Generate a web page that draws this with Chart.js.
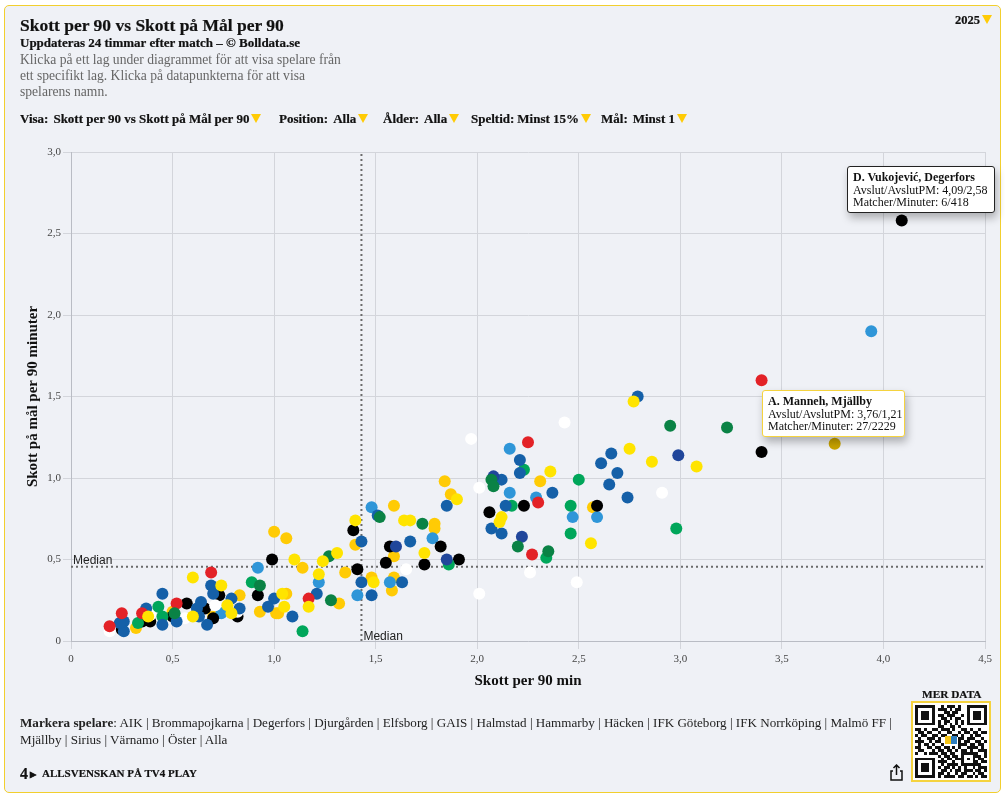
<!DOCTYPE html>
<html lang="sv">
<head>
<meta charset="utf-8">
<title>Skott per 90 vs Skott på Mål per 90</title>
<script src="https://cdn.jsdelivr.net/npm/chart.js@4"></script>
<style>
html, body { margin: 0; padding: 0; background: #fff; }
body { width: 1005px; height: 798px; position: relative; overflow: hidden; font-family: "Liberation Serif", serif; color: #111; }
#card { position: absolute; left: 4px; top: 5px; width: 995px; height: 786px; background: #eff1f6; border: 1.5px solid #f2cf2e; border-radius: 5px; }
#chart { position: absolute; left: 0; top: 0; }
.t { position: absolute; white-space: nowrap; }
.b { font-weight: bold; -webkit-text-stroke: 0.2px #111; }
.arrow { display: inline-block; width: 0; height: 0; border-left: 5px solid transparent; border-right: 5px solid transparent; border-top: 9px solid #ffcb05; margin-left: 2px; }
#desc { left: 20px; top: 52px; font-size: 13.6px; line-height: 15.8px; color: #666; }
#filters { left: 20px; top: 111px; font-size: 13px; font-weight: bold; -webkit-text-stroke: 0.2px #111; }
#filters span.f { position: absolute; top: 0; white-space: nowrap; }
#filters i { font-style: normal; margin-left: 5px; }
.tip { position: absolute; background: #fff; border-radius: 3px; padding: 4px 5px; font-size: 12px; line-height: 12.5px; white-space: nowrap; box-shadow: 2px 5px 9px rgba(0,0,0,0.28); box-sizing: border-box; }
#teams { left: 20px; top: 714px; font-size: 13.1px; line-height: 17px; color: #222; }
#qr { position: absolute; left: 911px; top: 701px; width: 80px; height: 81px; background: #fff; border: 2px solid #f5d33f; box-sizing: border-box; }
</style>
</head>
<body>
<div id="card"></div>
<canvas id="chart" width="1005" height="798"></canvas>

<div class="t b" style="left:20px;top:15px;font-size:17.5px">Skott per 90 vs Skott på Mål per 90</div>
<div class="t b" style="left:20px;top:35px;font-size:13px">Uppdateras 24 timmar efter match – © Bolldata.se</div>
<div class="t" id="desc">Klicka på ett lag under diagrammet för att visa spelare från<br>ett specifikt lag. Klicka på datapunkterna för att visa<br>spelarens namn.</div>
<div class="t b" style="left:955px;top:13px;font-size:12.5px">2025<span class="arrow"></span></div>
<div class="t" id="filters">
  <span class="f" style="left:0">Visa:<i>Skott per 90 vs Skott på Mål per 90</i><span class="arrow"></span></span>
  <span class="f" style="left:259px">Position:<i>Alla</i><span class="arrow"></span></span>
  <span class="f" style="left:363px">Ålder:<i>Alla</i><span class="arrow"></span></span>
  <span class="f" style="left:451px">Speltid:<i style="margin-left:3px">Minst 15%</i><span class="arrow"></span></span>
  <span class="f" style="left:581px">Mål:<i>Minst 1</i><span class="arrow"></span></span>
</div>

<div class="tip" style="left:847px;top:166px;width:148px;height:47px;border:1px solid #222"><b>D. Vukojević, Degerfors</b><br>Avslut/AvslutPM: 4,09/2,58<br>Matcher/Minuter: 6/418</div>
<div class="tip" style="left:762px;top:390px;width:143px;height:47px;border:1px solid #f5d33f"><b>A. Manneh, Mjällby</b><br>Avslut/AvslutPM: 3,76/1,21<br>Matcher/Minuter: 27/2229</div>

<div class="t" id="teams"><b>Markera spelare</b>: AIK | Brommapojkarna | Degerfors | Djurgården | Elfsborg | GAIS | Halmstad | Hammarby | Häcken | IFK Göteborg | IFK Norrköping | Malmö FF |<br>Mjällby | Sirius | Värnamo | Öster | Alla</div>
<div class="t b" style="left:20px;top:765px;font-size:16px">4<span style="font-size:8px;vertical-align:2px"> ▶</span></div>
<div class="t b" style="left:42px;top:767px;font-size:11px">ALLSVENSKAN PÅ TV4 PLAY</div>
<svg style="position:absolute;left:889px;top:764px" width="15" height="17" viewBox="0 0 15 17" fill="none" stroke="#111" stroke-width="1.5"><path d="M4 7H2v9h11V7h-2"/><path d="M7.5 11V1M4.5 4l3-3 3 3"/></svg>
<div class="t b" style="left:922px;top:688px;font-size:11.3px">MER DATA</div>
<div id="qr"><svg id="qrSvg" style="position:absolute;left:2px;top:2px" width="72" height="73" viewBox="0 0 25 25" preserveAspectRatio="none" shape-rendering="crispEdges"></svg></div>

<script>
// skott per 90 / skott på mål per 90, avlästa per färggrupp
const goldPlayers = [[0.83,0.28],[1.00,0.67],[0.93,0.18],[1.01,0.17],[0.32,0.08],[0.64,0.21],[0.70,0.15],[0.50,0.18],[1.06,0.63],[1.14,0.45],[1.40,0.59],[1.35,0.42],[1.59,0.83],[1.79,0.72],[1.79,0.69],[1.59,0.52],[1.48,0.39],[1.59,0.39],[1.58,0.31],[1.32,0.23],[1.06,0.29],[1.02,0.17],[1.84,0.98],[1.87,0.90],[2.31,0.98],[2.57,0.82]];
const mustardPlayers = [[3.76,1.21]];
const yellowPlayers = [[0.60,0.39],[0.74,0.34],[0.38,0.15],[0.77,0.22],[0.60,0.15],[0.79,0.17],[1.10,0.50],[1.22,0.41],[1.24,0.49],[1.31,0.54],[1.40,0.74],[1.64,0.74],[1.67,0.74],[1.74,0.54],[1.49,0.36],[1.17,0.21],[1.04,0.29],[1.05,0.21],[1.90,0.87],[2.77,1.47],[2.75,1.18],[2.86,1.10],[3.08,1.07],[2.36,1.04],[2.12,0.76],[2.11,0.73],[2.56,0.60]];
const blackPlayers = [[0.99,0.50],[0.92,0.28],[0.73,0.28],[0.57,0.23],[0.66,0.20],[0.70,0.14],[0.82,0.15],[0.35,0.12],[0.39,0.12],[0.25,0.07],[0.50,0.15],[1.39,0.68],[1.41,0.44],[1.55,0.48],[1.57,0.58],[1.74,0.47],[1.82,0.58],[1.91,0.50],[2.06,0.79],[2.23,0.83],[2.59,0.83],[3.40,1.16],[4.09,2.58]];
const whitePlayers = [[0.19,0.06],[0.56,0.14],[0.82,0.18],[0.71,0.22],[0.39,0.16],[1.65,0.44],[2.01,0.29],[1.97,1.24],[2.43,1.34],[2.01,0.94],[2.91,0.91],[2.26,0.42],[2.49,0.36]];
const bluePlayers = [[0.45,0.29],[0.69,0.34],[0.70,0.29],[0.79,0.26],[1.00,0.26],[0.97,0.21],[0.64,0.24],[0.62,0.20],[0.67,0.10],[0.45,0.10],[0.52,0.12],[0.37,0.20],[0.26,0.12],[0.26,0.06],[0.24,0.11],[0.83,0.20],[0.63,0.15],[1.09,0.15],[1.21,0.29],[1.43,0.36],[1.48,0.28],[1.63,0.36],[1.67,0.61],[1.85,0.83],[1.43,0.61],[1.51,0.77],[2.79,1.50],[2.66,1.15],[2.61,1.09],[2.69,1.03],[2.65,0.96],[2.74,0.88],[2.21,1.11],[2.21,1.03],[2.12,0.99],[2.14,0.83],[2.37,0.91],[2.07,0.69],[2.12,0.66]];
const navyPlayers = [[1.60,0.58],[1.85,0.50],[2.08,1.01],[2.22,0.64],[2.99,1.14]];
const skyPlayers = [[0.92,0.45],[0.74,0.17],[1.22,0.36],[1.41,0.28],[1.57,0.36],[1.78,0.63],[1.48,0.82],[2.16,1.18],[2.16,0.91],[2.29,0.88],[2.47,0.76],[2.59,0.76],[3.94,1.90]];
const greenPlayers = [[0.89,0.36],[0.43,0.21],[0.45,0.15],[0.33,0.11],[1.14,0.06],[1.86,0.47],[2.50,0.99],[2.46,0.83],[2.46,0.66],[2.98,0.69],[2.23,1.05],[2.17,0.83],[2.34,0.51]];
const darkGreenPlayers = [[0.93,0.34],[0.51,0.17],[1.52,0.76],[1.73,0.72],[1.27,0.52],[1.28,0.25],[2.07,0.99],[2.08,0.95],[2.20,0.58],[2.35,0.55],[2.95,1.32],[3.23,1.31]];
const redPlayers = [[0.19,0.09],[0.25,0.17],[0.52,0.23],[0.69,0.42],[0.35,0.17],[1.17,0.26],[2.25,1.22],[2.30,0.85],[2.27,0.53],[3.40,1.60]];

const medianX = 1.43;
const medianY = 0.455;
const xTicks = [0, 0.5, 1, 1.5, 2, 2.5, 3, 3.5, 4, 4.5];
const yTicks = [0, 0.5, 1, 1.5, 2, 2.5, 3];

const qrRows = [
  "1111111001011101001111111",
  "1000001011101011001000001",
  "1011101000110110001011101",
  "1011101011011100101011101",
  "1011101001101011001011101",
  "1000001010110010101000001",
  "1111111010101010101111111",
  "0000000011001101000000000",
  "1101001101110100110100100",
  "0110110010011001011011011",
  "1011001101100110100101100",
  "0100111010000001101110010",
  "1110010110000001011001101",
  "0101101001000001110110110",
  "1100110110110101001111010",
  "0110001011011010110100111",
  "1001011101101100111111001",
  "0000000010110110100011101",
  "1111111001011011101010110",
  "1000001011100100100011011",
  "1011101001011110111111100",
  "1011101010110101010010111",
  "1011101001101011011101101",
  "1000001011010010110010110",
  "1111111010111101101101011",
];

var qrHtml = "";
qrRows.forEach(function (row, y) {
  row.split("").forEach(function (c, x) {
    if (c === "1") qrHtml += '<rect x="' + x + '" y="' + y + '" width="1" height="1" fill="#111"/>';
  });
});
qrHtml += '<rect x="10.5" y="10.5" width="2" height="3" fill="#f5c518"/><rect x="12.5" y="10.5" width="2" height="3" fill="#2f7fc0"/>';
document.getElementById("qrSvg").innerHTML = qrHtml;

function dots(points, color) {
  return {
    data: points.map(function (p) { return { x: p[0], y: p[1] }; }),
    backgroundColor: color,
    borderWidth: 0,
    pointRadius: 6,
    pointHoverRadius: 6,
  };
}

function medianLine(points) {
  return {
    data: points,
    showLine: true,
    pointRadius: 0,
    borderColor: "#6b6b6b",
    borderWidth: 2,
    borderDash: [2, 3],
  };
}

function tickText(value) {
  return value === 0 ? "0" : value.toFixed(1).replace(".", ",");
}

const medianLabels = {
  id: "medianLabels",
  beforeDatasetsDraw: function (chart) {
    var ctx = chart.ctx;
    var x = chart.scales.x;
    var y = chart.scales.y;
    ctx.save();
    ctx.font = "12px 'Liberation Sans', Arial, sans-serif";
    ctx.fillStyle = "#222";
    ctx.textBaseline = "alphabetic";
    ctx.fillText("Median", x.getPixelForValue(0) + 2, y.getPixelForValue(medianY) - 3);
    ctx.fillText("Median", x.getPixelForValue(medianX) + 2, y.getPixelForValue(0) - 1);
    ctx.restore();
  },
};

// forsta datasetet ritas overst i Chart.js
new Chart(document.getElementById("chart"), {
  type: "scatter",
  plugins: [medianLabels],
  data: {
    datasets: [
      dots(yellowPlayers, "#ffe400"),
      dots(darkGreenPlayers, "#0a8245"),
      dots(redPlayers, "#e32227"),
      dots(navyPlayers, "#20469b"),
      dots(bluePlayers, "#1560a8"),
      dots(greenPlayers, "#00a65a"),
      dots(whitePlayers, "#ffffff"),
      dots(blackPlayers, "#000000"),
      dots(skyPlayers, "#2f96d8"),
      dots(mustardPlayers, "#c9a400"),
      dots(goldPlayers, "#ffcb05"),
      medianLine([{ x: medianX, y: 0 }, { x: medianX, y: 3 }]),
      medianLine([{ x: 0, y: medianY }, { x: 4.5, y: medianY }]),
    ],
  },
  options: {
    responsive: false,
    animation: false,
    events: [],
    layout: { padding: { left: 20, right: 20, top: 152, bottom: 100 } },
    plugins: { legend: { display: false }, tooltip: { enabled: false } },
    scales: {
      x: {
        type: "linear",
        min: 0,
        max: 4.5,
        afterBuildTicks: function (axis) {
          axis.ticks = xTicks.map(function (v) { return { value: v }; });
        },
        afterFit: function (axis) { axis.height = 57; },
        grid: { color: "#d3d5db", tickLength: 8, tickColor: "#d3d5db" },
        border: { color: "#b9bcc4" },
        ticks: { callback: tickText, maxRotation: 0, padding: 4, color: "#444", font: { family: "'Liberation Serif', serif", size: 11 } },
        title: { display: true, text: "Skott per 90 min", color: "#111", padding: { top: 6, bottom: 8 }, font: { family: "'Liberation Serif', serif", size: 15, weight: "bold" } },
      },
      y: {
        type: "linear",
        min: 0,
        max: 3,
        afterBuildTicks: function (axis) {
          axis.ticks = yTicks.map(function (v) { return { value: v }; });
        },
        afterFit: function (axis) { axis.width = 51; },
        grid: { color: "#d3d5db", tickLength: 8, tickColor: "#d3d5db" },
        border: { color: "#b9bcc4" },
        ticks: { callback: tickText, padding: 2, color: "#444", font: { family: "'Liberation Serif', serif", size: 11 } },
        title: { display: true, text: "Skott på mål per 90 minuter", color: "#111", padding: { top: 4, bottom: 0 }, font: { family: "'Liberation Serif', serif", size: 15, weight: "bold" } },
      },
    },
  },
});
</script>
</body>
</html>
